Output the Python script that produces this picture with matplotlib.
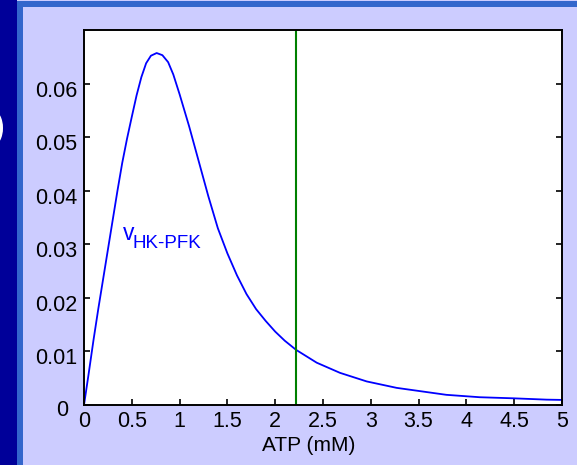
import matplotlib
matplotlib.use("Agg")
import matplotlib.pyplot as plt
from matplotlib.patches import Rectangle, Ellipse
from matplotlib.transforms import ScaledTranslation

plt.rcParams['font.family'] = ['Liberation Sans', 'DejaVu Sans']

# ATP concentration (mM) and glycolytic flux
atp = [0, 0.05, 0.1, 0.15, 0.2, 0.25, 0.3, 0.35, 0.4, 0.45, 0.5, 0.55, 0.6,
       0.65, 0.7, 0.76, 0.82, 0.88, 0.934, 1.0, 1.1, 1.2, 1.3, 1.4, 1.5, 1.6,
       1.7, 1.8, 1.9, 2.0, 2.1, 2.218, 2.434, 2.678, 2.957, 3.27, 3.55, 3.79,
       4.14, 4.49, 4.84, 5.0]
v_hk_pfk = [0, 0.006, 0.0122, 0.018, 0.0235, 0.029, 0.0345, 0.04, 0.0452,
            0.0497, 0.0538, 0.0578, 0.0612, 0.0638, 0.0652, 0.0657, 0.0653,
            0.064, 0.0617, 0.058, 0.052, 0.0455, 0.039, 0.033, 0.0283, 0.0242,
            0.0207, 0.0179, 0.0157, 0.0137, 0.012, 0.0103, 0.0079, 0.006,
            0.0044, 0.0032, 0.0025, 0.0019, 0.00145, 0.00125, 0.001, 0.00095]
atp_marker = 2.22

x_ticks = [0, 0.5, 1, 1.5, 2, 2.5, 3, 3.5, 4, 4.5, 5]
x_labels = ['0', '0.5', '1', '1.5', '2', '2.5', '3', '3.5', '4', '4.5', '5']
y_ticks = [0, 0.01, 0.02, 0.03, 0.04, 0.05, 0.06]
y_labels = ['', '0.01', '0.02', '0.03', '0.04', '0.05', '0.06']

W, H = 577, 465
fig = plt.figure(figsize=(W / 100, H / 100), dpi=100)
fig.patch.set_facecolor('#CCCCFF')

# slide frame
fig.add_artist(Rectangle((0, 0), 17 / W, 1, transform=fig.transFigure,
                         facecolor='#000099', edgecolor='none', zorder=0))
fig.add_artist(Rectangle((17 / W, 0), 6 / W, 1 - 1 / H, transform=fig.transFigure,
                         facecolor='#3366CC', edgecolor='none', zorder=0))
fig.add_artist(Rectangle((17 / W, 1 - 7 / H), 1, 6 / H, transform=fig.transFigure,
                         facecolor='#3366CC', edgecolor='none', zorder=0))
fig.add_artist(Ellipse((-6 / W, 1 - 128 / H), 18 / W, 34 / H, transform=fig.transFigure,
                       facecolor='white', edgecolor='none', zorder=1))

ax = fig.add_axes([84 / W, 1 - 405 / H, 478 / W, 375 / H])
ax.set_facecolor('white')

ax.plot(atp, v_hk_pfk, color='#0000FF', linewidth=1.3)
ax.axvline(atp_marker, color='#008000', linewidth=1.5)

ax.set_xlim(0, 5)
ax.set_ylim(0, 0.07)
ax.set_xticks(x_ticks)
ax.set_xticklabels(x_labels)
ax.set_yticks(y_ticks)
ax.set_yticklabels(y_labels)

ax.tick_params(axis='both', direction='in', length=4, width=1.2,
               labelsize=15.5, pad=4.5, colors='black')
ax.tick_params(axis='y', right=True)
ax.tick_params(axis='x', top=False)

shift = ScaledTranslation(0, -5 / 100, fig.dpi_scale_trans)
for lbl in ax.get_yticklabels():
    lbl.set_transform(lbl.get_transform() + shift)

for sp in ax.spines.values():
    sp.set_linewidth(1.4)
    sp.set_color('black')

# y-axis zero label sits lower left in the original
ax.text(-22 / 478, -5 / 375, '0', transform=ax.transAxes,
        ha='center', va='center', fontsize=15.5)

ax.text(0.47, -0.082, 'ATP (mM)', transform=ax.transAxes,
        ha='center', va='top', fontsize=15)

# curve label
ax.text(0.405, 0.0321, 'v', color='#0000FF', fontsize=16.5, ha='left', va='center')
ax.text(0.51, 0.0302, 'HK-PFK', color='#0000FF', fontsize=13.5, ha='left', va='center')

fig.savefig('out.png', dpi=100, facecolor=fig.get_facecolor())
